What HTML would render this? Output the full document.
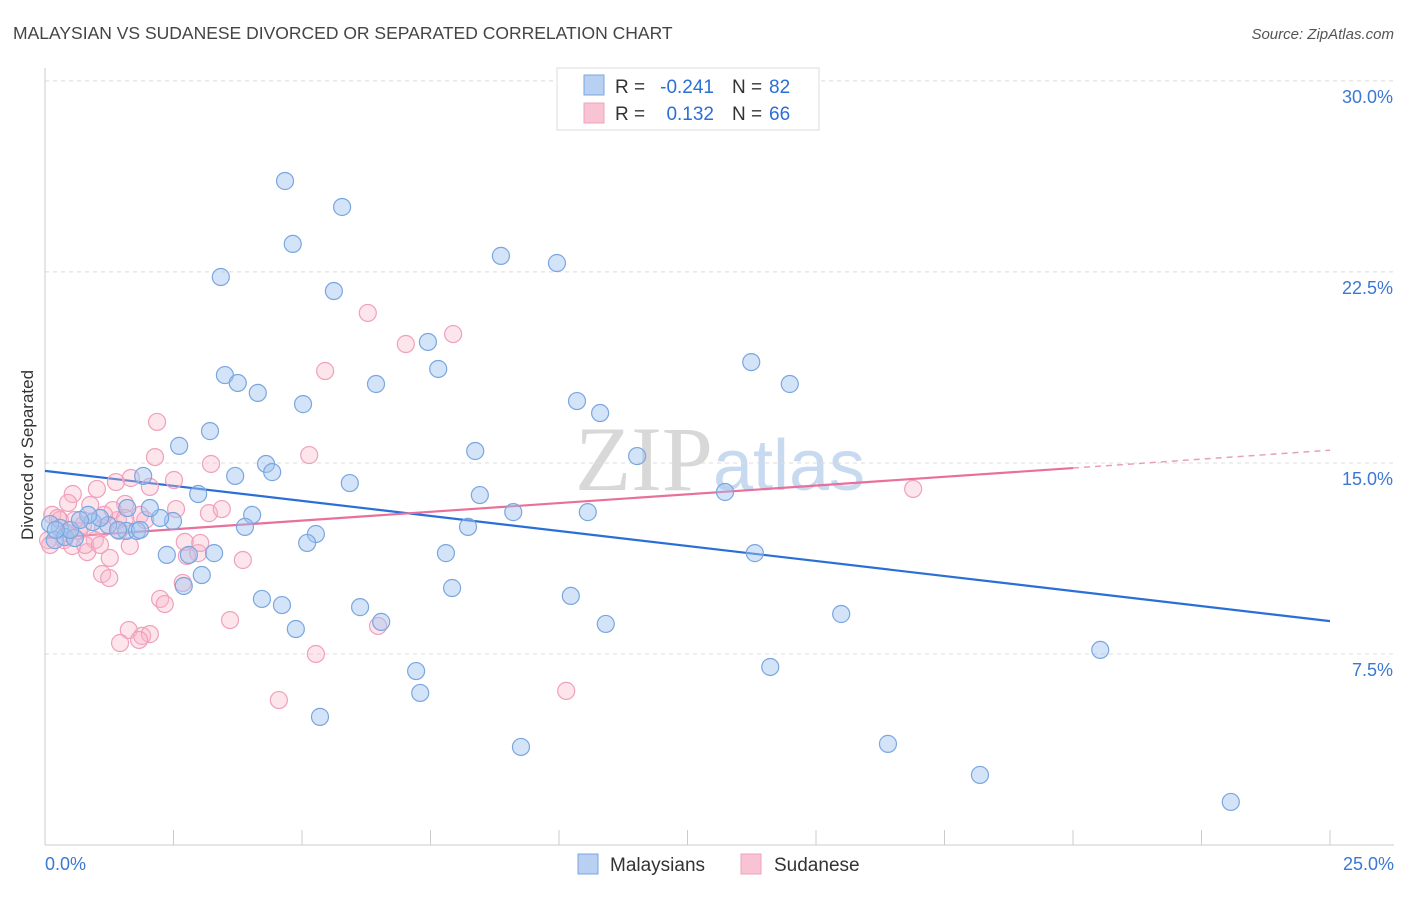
<!DOCTYPE html>
<html><head><meta charset="utf-8"><style>
body{margin:0;background:#fff;font-family:"Liberation Sans",sans-serif;}
svg text{font-family:"Liberation Sans",sans-serif;}
</style></head><body>
<svg id="chart" width="1406" height="892" xmlns="http://www.w3.org/2000/svg">
<text x="13" y="39" font-size="17.5" fill="#444">MALAYSIAN VS SUDANESE DIVORCED OR SEPARATED CORRELATION CHART</text>
<text x="1394" y="39" font-size="15" fill="#555" text-anchor="end" font-style="italic">Source: ZipAtlas.com</text>
<text x="720" y="490" font-size="92" text-anchor="middle" fill="#dde3ea"><tspan font-family="Liberation Serif" fill="#d8d8d8">ZIP</tspan><tspan font-size="72" fill="#c8daf0">atlas</tspan></text>
<g id="grid"></g>
<g id="axes"></g>
<g id="lines"></g>
<g id="pts"></g>
<text transform="translate(33,455) rotate(-90)" font-size="17" fill="#333" text-anchor="middle">Divorced or Separated</text>
<g font-size="19">
<rect x="557" y="68" width="262" height="62" fill="#fff" stroke="#ddd"/>
<rect x="584" y="75" width="20" height="20" fill="#b8d0f2" stroke="#7aa6e0"/>
<rect x="584" y="103" width="20" height="20" fill="#f8c4d4" stroke="#f0a0bc"/>
<text x="615" y="93" fill="#333">R =</text>
<text x="714" y="93" fill="#2a6fd6" text-anchor="end">-0.241</text>
<text x="732" y="93" fill="#333">N =</text>
<text x="769" y="93" fill="#2a6fd6">82</text>
<text x="615" y="120" fill="#333">R =</text>
<text x="714" y="120" fill="#2a6fd6" text-anchor="end">0.132</text>
<text x="732" y="120" fill="#333">N =</text>
<text x="769" y="120" fill="#2a6fd6">66</text>
</g>
<g>
<rect x="578" y="854" width="20" height="20" fill="#b8d0f2" stroke="#7aa6e0"/>
<text x="610" y="871" font-size="19" fill="#333">Malaysians</text>
<rect x="741" y="854" width="20" height="20" fill="#f8c4d4" stroke="#f0a0bc"/>
<text x="774" y="871" font-size="19" fill="#333">Sudanese</text>
</g>
</svg>
<script>
const yTicks=[7.5,15,22.5,30];
const yTickLabels=["7.5%","15.0%","22.5%","30.0%"];
const xTickCount=10;
const xLabels=["0.0%","25.0%"];
const blueX=[4.67,5.78,4.82,3.42,8.87,9.96,5.62,7.45,7.65,3.50,3.75,4.14,6.44,13.74,14.49,5.02,10.35,10.80,3.21,2.61,8.37,11.52,1.91,3.70,4.30,4.42,5.93,2.98,8.46,13.23,9.11,10.56,4.03,3.89,8.23,5.27,5.10,2.49,2.24,2.04,1.60,1.58,1.79,1.23,0.93,1.07,0.84,0.29,0.10,0.19,0.39,0.58,2.37,3.29,7.80,13.81,2.80,3.05,2.70,7.92,10.23,4.22,4.61,6.13,15.49,6.54,4.88,10.91,7.22,14.11,20.53,7.30,5.35,9.26,16.40,18.19,23.07,0.49,0.68,0.21,1.42,1.85];
const blueY=[26.07,25.05,23.60,22.30,23.13,22.85,21.75,19.75,18.69,18.45,18.14,17.75,18.10,18.96,18.10,17.31,17.43,16.96,16.25,15.67,15.47,15.27,14.49,14.49,14.96,14.64,14.21,13.78,13.74,13.86,13.07,13.07,12.96,12.49,12.49,12.21,11.86,12.72,12.84,13.23,13.23,12.33,12.33,12.56,12.68,12.84,12.96,12.45,12.60,11.97,12.09,12.05,11.39,11.46,11.46,11.46,11.39,10.60,10.17,10.09,9.78,9.66,9.42,9.34,9.07,8.76,8.48,8.68,6.83,6.99,7.66,5.97,5.03,3.85,3.97,2.75,1.69,12.37,12.76,12.37,12.37,12.37];
const pinkX=[6.28,7.02,7.94,5.45,2.18,2.14,5.14,3.23,2.51,1.67,1.38,1.01,2.04,0.54,0.45,0.88,1.56,1.42,1.85,2.55,3.19,3.44,0.14,0.29,0.74,1.13,1.44,0.66,0.37,0.53,0.82,1.65,2.72,2.98,2.76,1.26,1.11,1.25,3.85,2.68,2.24,2.33,3.60,1.63,1.89,2.04,1.46,1.83,5.27,6.48,4.55,10.14,16.89,0.06,0.25,0.97,0.43,1.32,1.56,1.15,0.78,3.02,0.10,0.58,1.95,1.07];
const pinkY=[20.89,19.67,20.06,18.61,16.61,15.23,15.31,14.96,14.33,14.41,14.25,13.98,14.06,13.78,13.43,13.35,13.39,12.76,12.96,13.19,13.03,13.19,12.96,12.76,12.56,12.45,12.33,12.33,11.97,11.74,11.50,11.74,11.90,11.46,11.35,11.27,10.64,10.48,11.19,10.29,9.66,9.46,8.83,8.44,8.21,8.28,7.93,8.05,7.50,8.60,5.69,6.05,13.98,11.97,12.84,11.97,12.25,13.15,12.84,12.96,11.78,11.86,11.78,12.76,12.76,11.78];
const blueTrend=[14.69,8.79];
const pinkTrend=[12.05,14.80,15.50];
const pinkSolidEnd=20;

const NS="http://www.w3.org/2000/svg";
const X=v=>45+v*51.4, Y=v=>845-v*25.47;
function mk(tag,attrs,parent){const e=document.createElementNS(NS,tag);for(const k in attrs)e.setAttribute(k,attrs[k]);document.getElementById(parent).appendChild(e);return e;}
yTicks.forEach((t,i)=>{
 const g=mk('line',{x1:45,x2:1394,y1:Y(t),y2:Y(t),stroke:'#dcdcdc','stroke-dasharray':'4,4'},'grid');
 
 
 const tx=mk('text',{x:1393,y:Y(t)+22,'font-size':18,fill:'#3a78d4','text-anchor':'end'},'grid');
 tx.textContent=yTickLabels[i];
 
 
});
const ax=mk('line',{x1:45,x2:45,y1:68,y2:845,stroke:'#ccc'},'axes');


const bx=mk('line',{x1:45,x2:1394,y1:845,y2:845,stroke:'#ccc'},'axes');


for(let i=0;i<=xTickCount;i++){
 const t=mk('line',{x1:X(i*2.5),x2:X(i*2.5),y1:830,y2:845,stroke:'#ccc'},'axes');
 
 
}
[['start',xLabels[0]],['end',xLabels[1]]].forEach(([a,s])=>{
 const t=mk('text',{x:a==='start'?45:1394,y:870,'font-size':18,fill:'#3a78d4','text-anchor':a},'axes');
 t.textContent=s;
 
 
});
function dots(xs,ys,fill,stroke,name){
 xs.forEach((x,i)=>{
  const c=mk('circle',{cx:X(x),cy:Y(ys[i]),r:8.5,fill:fill,stroke:stroke,'stroke-width':1.2},'pts');
  
  
 });
}
dots(pinkX,pinkY,'rgba(248,180,200,0.35)','#f0a0bc','sudanese-point');
dots(blueX,blueY,'rgba(160,196,240,0.45)','#7aa6e0','malaysian-point');
const bl=mk('line',{x1:X(0),y1:Y(blueTrend[0]),x2:X(25),y2:Y(blueTrend[1]),stroke:'#2a6fd6','stroke-width':2.2},'lines');


const pl=mk('line',{x1:X(0),y1:Y(pinkTrend[0]),x2:X(pinkSolidEnd),y2:Y(pinkTrend[1]),stroke:'#e8709a','stroke-width':2.2},'lines');


const pd=mk('line',{x1:X(pinkSolidEnd),y1:Y(pinkTrend[1]),x2:X(25),y2:Y(pinkTrend[2]),stroke:'#e8a0b8','stroke-width':1.5,'stroke-dasharray':'6,5'},'lines');


</script>
</body></html>
